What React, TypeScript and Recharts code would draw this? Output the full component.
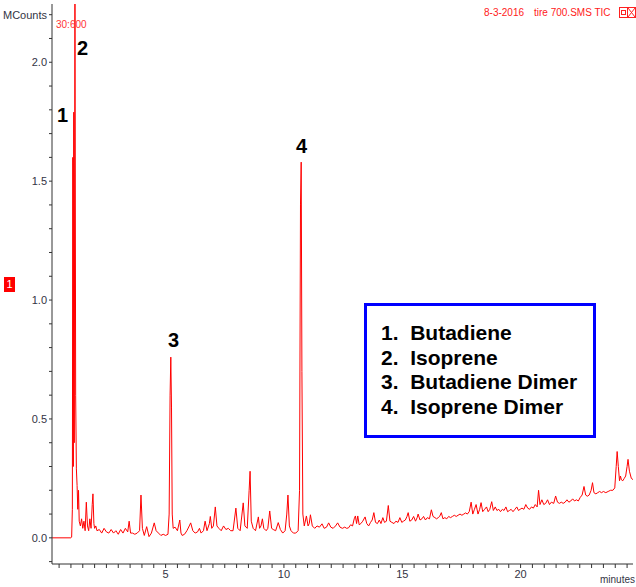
import React from "react";
import { LineChart, Line, XAxis, YAxis, ReferenceDot } from "recharts";

// retention time (minutes), intensity (MCounts)
const trace: [number, number][] = [
  [0.2, 0], [1.0, 0], [1.03, 0.003], [1.06, 0.12], [1.08, 1.6], [1.1, 0.3], [1.12, 1.79], [1.14, 0.4],
  [1.17, 2.26], [1.2, 0.6], [1.23, 0.29], [1.26, 0.22], [1.29, 0.12], [1.32, 0.2], [1.35, 0.07], [1.4, 0.05],
  [1.45, 0.08], [1.5, 0.04], [1.55, 0.07], [1.6, 0.03], [1.65, 0.15], [1.7, 0.05], [1.75, 0.03], [1.8, 0.08],
  [1.85, 0.04], [1.9, 0.14], [1.93, 0.185], [1.97, 0.06], [2.0, 0.04], [2.05, 0.05], [2.1, 0.03], [2.2, 0.035],
  [2.3, 0.02], [2.4, 0.04], [2.5, 0.025], [2.6, 0.02], [2.7, 0.035], [2.8, 0.02], [2.9, 0.03], [3.0, 0.015],
  [3.1, 0.035], [3.2, 0.02], [3.3, 0.04], [3.4, 0.025], [3.46, 0.07], [3.52, 0.02], [3.6, 0.02], [3.7, 0.015],
  [3.8, 0.02], [3.9, 0.03], [3.96, 0.18], [4.02, 0.04], [4.1, 0.01], [4.2, 0.047], [4.3, 0.005], [4.4, 0.02],
  [4.52, 0.063], [4.6, 0.03], [4.7, 0.02], [4.8, 0.01], [4.9, 0.015], [5.0, 0.01], [5.1, 0.015], [5.15, 0.1],
  [5.19, 0.6], [5.22, 0.76], [5.25, 0.55], [5.28, 0.1], [5.32, 0.04], [5.4, 0.045], [5.5, 0.03], [5.6, 0.075],
  [5.65, 0.02], [5.7, 0.01], [5.8, 0.015], [5.9, 0.03], [6.0, 0.05], [6.06, 0.063], [6.15, 0.03], [6.25, 0.02],
  [6.35, 0.025], [6.43, 0.04], [6.5, 0.02], [6.6, 0.03], [6.67, 0.07], [6.75, 0.03], [6.85, 0.06], [6.89, 0.09],
  [6.95, 0.04], [7.02, 0.05], [7.1, 0.13], [7.17, 0.05], [7.25, 0.04], [7.35, 0.03], [7.45, 0.05], [7.55, 0.035],
  [7.65, 0.04], [7.75, 0.03], [7.85, 0.03], [7.97, 0.125], [8.05, 0.04], [8.15, 0.03], [8.28, 0.147], [8.35, 0.05],
  [8.45, 0.04], [8.53, 0.2], [8.57, 0.28], [8.62, 0.07], [8.7, 0.04], [8.8, 0.03], [8.92, 0.088], [8.97, 0.04],
  [9.03, 0.05], [9.09, 0.08], [9.15, 0.04], [9.25, 0.03], [9.32, 0.04], [9.4, 0.113], [9.48, 0.04], [9.55, 0.035],
  [9.65, 0.03], [9.76, 0.064], [9.85, 0.035], [9.95, 0.02], [10.05, 0.03], [10.12, 0.1], [10.17, 0.18], [10.23, 0.05],
  [10.3, 0.03], [10.4, 0.02], [10.5, 0.02], [10.6, 0.03], [10.66, 0.2], [10.7, 1.4], [10.73, 1.58], [10.76, 0.7],
  [10.8, 0.1], [10.86, 0.05], [10.95, 0.092], [11.02, 0.05], [11.07, 0.06], [11.12, 0.097], [11.2, 0.05], [11.3, 0.04],
  [11.4, 0.05], [11.5, 0.045], [11.61, 0.059], [11.7, 0.04], [11.8, 0.045], [11.89, 0.063], [11.98, 0.045], [12.08, 0.04],
  [12.18, 0.05], [12.27, 0.063], [12.37, 0.045], [12.47, 0.04], [12.57, 0.045], [12.65, 0.04], [12.73, 0.042], [12.82, 0.055],
  [12.9, 0.05], [12.97, 0.08], [13.02, 0.092], [13.07, 0.06], [13.12, 0.092], [13.18, 0.055], [13.25, 0.06], [13.33, 0.07],
  [13.43, 0.088], [13.5, 0.06], [13.58, 0.05], [13.66, 0.065], [13.73, 0.075], [13.8, 0.106], [13.87, 0.065], [13.95, 0.06],
  [14.03, 0.075], [14.1, 0.06], [14.18, 0.085], [14.25, 0.065], [14.33, 0.07], [14.41, 0.136], [14.48, 0.07], [14.56, 0.065],
  [14.65, 0.06], [14.73, 0.07], [14.82, 0.065], [14.9, 0.085], [14.98, 0.065], [15.05, 0.07], [15.13, 0.075], [15.2, 0.09],
  [15.25, 0.106], [15.32, 0.07], [15.4, 0.075], [15.48, 0.09], [15.56, 0.07], [15.63, 0.085], [15.67, 0.1], [15.75, 0.075],
  [15.83, 0.08], [15.9, 0.09], [15.98, 0.075], [16.06, 0.085], [16.15, 0.08], [16.23, 0.118], [16.3, 0.09], [16.38, 0.085],
  [16.45, 0.08], [16.52, 0.085], [16.58, 0.09], [16.65, 0.106], [16.72, 0.08], [16.8, 0.085], [16.88, 0.08], [16.96, 0.09],
  [17.04, 0.085], [17.12, 0.09], [17.2, 0.095], [17.28, 0.09], [17.36, 0.095], [17.44, 0.1], [17.52, 0.095], [17.6, 0.1],
  [17.68, 0.105], [17.75, 0.1], [17.83, 0.11], [17.91, 0.15], [17.98, 0.1], [18.05, 0.12], [18.12, 0.14], [18.2, 0.1],
  [18.27, 0.12], [18.33, 0.148], [18.4, 0.11], [18.48, 0.12], [18.56, 0.13], [18.63, 0.11], [18.7, 0.12], [18.78, 0.152],
  [18.85, 0.115], [18.93, 0.13], [19.0, 0.115], [19.08, 0.12], [19.15, 0.11], [19.23, 0.12], [19.3, 0.115], [19.38, 0.13],
  [19.45, 0.11], [19.53, 0.115], [19.6, 0.12], [19.68, 0.11], [19.76, 0.12], [19.84, 0.13], [19.91, 0.115], [19.98, 0.12],
  [20.06, 0.125], [20.14, 0.12], [20.22, 0.14], [20.3, 0.125], [20.38, 0.12], [20.46, 0.13], [20.54, 0.125], [20.62, 0.14],
  [20.7, 0.13], [20.76, 0.2], [20.82, 0.14], [20.9, 0.16], [20.98, 0.14], [21.06, 0.145], [21.14, 0.16], [21.22, 0.14],
  [21.3, 0.15], [21.4, 0.145], [21.48, 0.176], [21.56, 0.15], [21.64, 0.145], [21.72, 0.15], [21.8, 0.145], [21.88, 0.15],
  [21.96, 0.16], [22.04, 0.15], [22.12, 0.155], [22.2, 0.164], [22.28, 0.155], [22.36, 0.16], [22.44, 0.155], [22.52, 0.17],
  [22.6, 0.18], [22.68, 0.216], [22.75, 0.18], [22.82, 0.175], [22.9, 0.18], [22.98, 0.2], [23.04, 0.232], [23.1, 0.19],
  [23.18, 0.185], [23.26, 0.19], [23.34, 0.195], [23.42, 0.19], [23.5, 0.195], [23.6, 0.19], [23.7, 0.195], [23.8, 0.2],
  [23.9, 0.2], [23.98, 0.21], [24.04, 0.3], [24.08, 0.363], [24.13, 0.3], [24.18, 0.24], [24.22, 0.26], [24.26, 0.244],
  [24.32, 0.24], [24.38, 0.25], [24.44, 0.26], [24.5, 0.3], [24.54, 0.33], [24.6, 0.28], [24.68, 0.25], [24.75, 0.245],
];

const xTicks = [0.5, 1, 1.5, 2, 2.5, 3, 3.5, 4, 4.5, 5, 5.5, 6, 6.5, 7, 7.5, 8, 8.5, 9, 9.5, 10, 10.5, 11, 11.5, 12, 12.5,
  13, 13.5, 14, 14.5, 15, 15.5, 16, 16.5, 17, 17.5, 18, 18.5, 19, 19.5, 20, 20.5, 21, 21.5, 22, 22.5, 23, 23.5, 24, 24.5];
const xLabels = [5, 10, 15, 20];
const yTicks = [-0.1, 0, 0.1, 0.2, 0.3, 0.4, 0.5, 0.6, 0.7, 0.8, 0.9, 1.0, 1.1, 1.2, 1.3, 1.4, 1.5, 1.6, 1.7, 1.8, 1.9, 2.0, 2.1, 2.2];
const yLabels: Record<string, string> = { "0": "0.0", "0.5": "0.5", "1": "1.0", "1.5": "1.5", "2": "2.0", "2.2": "MCounts" };

const peakLabels = [
  { t: 0.65, v: 1.777, label: "1" },
  { t: 1.49, v: 2.06, label: "2" },
  { t: 5.34, v: 0.83, label: "3" },
  { t: 10.74, v: 1.647, label: "4" },
];
const compounds = ["Butadiene", "Isoprene", "Butadiene Dimer", "Isoprene Dimer"];

const data = trace.map(([t, v]) => ({ t, v }));
const FONT = "Arial, 'Liberation Sans', sans-serif";
const AXIS = "#333333";

const XTick = (props: any) => {
  const { x, y, payload } = props;
  if (!xLabels.includes(payload.value)) return <g />;
  return (
    <text x={x} y={y} dy={8} textAnchor="middle" fontSize={11} fontFamily={FONT} fill="#333344">
      {payload.value}
    </text>
  );
};

const YTick = (props: any) => {
  const { x, y, payload } = props;
  const key = String(Math.round(payload.value * 10) / 10);
  const lab = yLabels[key];
  if (!lab) return <g />;
  return (
    <text x={x} y={y} dy={4} textAnchor="end" fontSize={11} fontFamily={FONT} fill="#333344">
      {lab}
    </text>
  );
};

const PeakLabel = (props: any) => {
  const { viewBox, value } = props;
  const cx = viewBox.x + (viewBox.width || 0) / 2;
  const cy = viewBox.y + (viewBox.height || 0) / 2;
  return (
    <text x={cx} y={cy} dy={7} textAnchor="middle" fontSize={20} fontWeight="bold" fontFamily={FONT} fill="#000">
      {value}
    </text>
  );
};

export default function App() {
  return (
    <div style={{ position: "absolute", left: 0, top: 0, width: 636, height: 587, background: "#fff", fontFamily: FONT, overflow: "hidden" }}>
      <LineChart width={636} height={587} data={data} margin={{ top: 4, right: 0, left: 0, bottom: 0 }}>
        <XAxis
          dataKey="t"
          type="number"
          domain={[0.2, 24.75]}
          allowDataOverflow
          ticks={xTicks}
          interval={0}
          tick={<XTick />}
          tickSize={4}
          tickMargin={2}
          height={23}
          axisLine={{ stroke: AXIS }}
          tickLine={{ stroke: AXIS }}
        />
        <YAxis
          yAxisId="left"
          type="number"
          domain={[-0.11, 2.245]}
          allowDataOverflow
          ticks={yTicks}
          interval={0}
          tick={<YTick />}
          tickSize={3}
          tickMargin={2}
          width={52}
          axisLine={{ stroke: AXIS }}
          tickLine={{ stroke: AXIS }}
        />
        <YAxis
          yAxisId="right"
          orientation="right"
          type="number"
          domain={[-0.11, 2.245]}
          allowDataOverflow
          ticks={yTicks}
          interval={0}
          tick={false}
          tickSize={3}
          width={3}
          axisLine={false}
          tickLine={{ stroke: AXIS }}
        />
        <Line
          yAxisId="left"
          type="linear"
          dataKey="v"
          stroke="#ff0000"
          strokeWidth={1}
          dot={false}
          isAnimationActive={false}
        />
        {peakLabels.map((p) => (
          <ReferenceDot
            key={p.label}
            yAxisId="left"
            x={p.t}
            y={p.v}
            r={0}
            fill="none"
            stroke="none"
            label={<PeakLabel value={p.label} />}
          />
        ))}
      </LineChart>

      {/* header texts */}
      <div style={{ position: "absolute", left: 56, top: 19, fontSize: 10, color: "#ff3333", fontFamily: FONT }}>30:600</div>
      <div style={{ position: "absolute", left: 484, top: 7, fontSize: 10, color: "#ff2020", fontFamily: FONT, whiteSpace: "pre" }}>
        8-3-2016
      </div>
      <div style={{ position: "absolute", left: 534, top: 7, fontSize: 10, color: "#ff2020", fontFamily: FONT, whiteSpace: "pre" }}>
        tire 700.SMS TIC
      </div>
      <svg style={{ position: "absolute", left: 619, top: 7 }} width={17} height={12}>
        <rect x={0.5} y={0.5} width={8} height={10} fill="none" stroke="#ff2020" />
        <rect x={2.5} y={3.5} width={4} height={4} fill="none" stroke="#ff2020" />
        <rect x={8.5} y={0.5} width={8} height={10} fill="none" stroke="#ff2020" />
        <line x1={9} y1={1} x2={16} y2={10} stroke="#ff2020" />
        <line x1={16} y1={1} x2={9} y2={10} stroke="#ff2020" />
      </svg>
      <div style={{ position: "absolute", left: 4, top: 277, width: 11, height: 15, background: "#ff0000", color: "#fff", fontSize: 11, lineHeight: "15px", textAlign: "center", fontFamily: FONT }}>1</div>
      <div style={{ position: "absolute", right: 1, top: 574, fontSize: 10, color: "#333344", fontFamily: FONT }}>minutes</div>

      {/* legend box */}
      <div
        style={{
          position: "absolute",
          left: 364,
          top: 303,
          width: 226,
          height: 129,
          border: "3px solid #0000ff",
          background: "#fff",
          boxSizing: "content-box",
        }}
      >
        {compounds.map((c, i) => (
          <div
            key={c}
            style={{
              position: "absolute",
              left: 14,
              top: 15 + i * 24.5,
              fontSize: 21,
              fontWeight: "bold",
              fontFamily: FONT,
              color: "#000",
              whiteSpace: "pre",
              lineHeight: "24px",
            }}
          >
            {`${i + 1}.  ${c}`}
          </div>
        ))}
      </div>
    </div>
  );
}
